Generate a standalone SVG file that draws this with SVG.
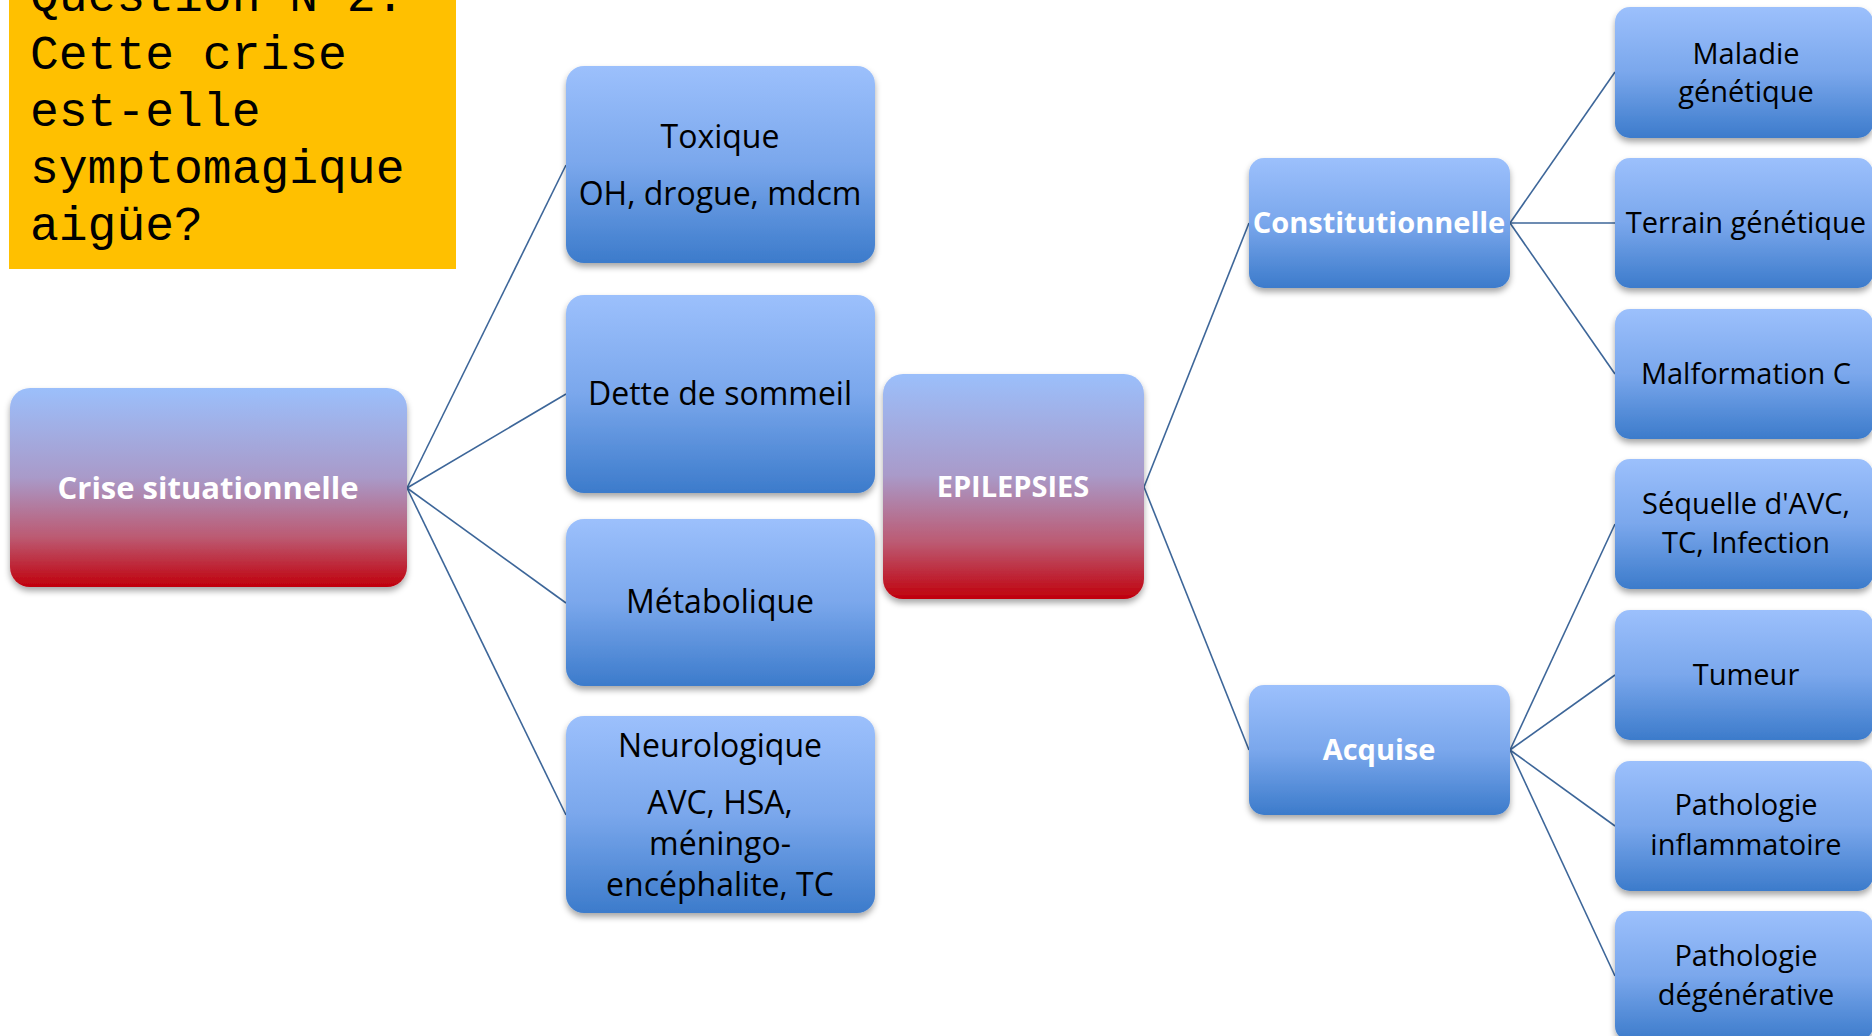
<svg xmlns="http://www.w3.org/2000/svg" width="1872" height="1036" viewBox="0 0 1872 1036">
<defs>
<linearGradient id="gBlue" x1="0" y1="0" x2="0" y2="1">
<stop offset="0" stop-color="#9CC0FC"/>
<stop offset="0.5" stop-color="#7AA7EC"/>
<stop offset="1" stop-color="#3C7BCB"/>
</linearGradient>
<linearGradient id="gRed" x1="0" y1="0" x2="0" y2="1">
<stop offset="0" stop-color="#9BBFFB"/>
<stop offset="0.45" stop-color="#A99AC9"/>
<stop offset="0.75" stop-color="#BC5A72"/>
<stop offset="1" stop-color="#C0000C"/>
</linearGradient>
<filter id="sh" x="-10%" y="-10%" width="120%" height="125%">
<feDropShadow dx="0" dy="4" stdDeviation="3" flood-color="#000" flood-opacity="0.35"/>
</filter>
</defs>
<style>
.b{fill:url(#gBlue);filter:url(#sh)}
.r{fill:url(#gRed);filter:url(#sh)}
.t{font-family:"Open Sans","Noto Sans",sans-serif;fill:#000;text-anchor:middle}
.m{font-size:32px}
.s{font-size:29px}
.w{font-family:"Open Sans","Noto Sans",sans-serif;font-weight:bold;fill:#fff;text-anchor:middle;font-size:29px}
.q{font-family:"Liberation Mono","Courier New",monospace;font-size:48px;fill:#000}
.c{stroke:#3D6699;stroke-width:1.6;fill:none}
</style>
<rect width="1872" height="1036" fill="#fff"/>
<g id="question">
<rect x="9" y="0" width="447" height="269" fill="#FFC000"/>
<text class="q" x="30" y="11">Question N°2:</text>
<text class="q" x="30" y="69">Cette crise</text>
<text class="q" x="30" y="126">est-elle</text>
<text class="q" x="30" y="183">symptomagique</text>
<text class="q" x="30" y="240">aigüe?</text>
</g>
<g id="connectors">
<line class="c" x1="407" y1="488" x2="566" y2="165"/>
<line class="c" x1="407" y1="488" x2="566" y2="394"/>
<line class="c" x1="407" y1="488" x2="566" y2="603"/>
<line class="c" x1="407" y1="488" x2="566" y2="815"/>
<line class="c" x1="1144" y1="487" x2="1249" y2="223"/>
<line class="c" x1="1144" y1="487" x2="1249" y2="750"/>
<line class="c" x1="1510" y1="223" x2="1615" y2="72"/>
<line class="c" x1="1510" y1="223" x2="1615" y2="223"/>
<line class="c" x1="1510" y1="223" x2="1615" y2="374"/>
<line class="c" x1="1510" y1="750" x2="1615" y2="524"/>
<line class="c" x1="1510" y1="750" x2="1615" y2="675"/>
<line class="c" x1="1510" y1="750" x2="1615" y2="826"/>
<line class="c" x1="1510" y1="750" x2="1615" y2="976"/>
</g>
<g id="crise">
<rect class="r" x="10" y="388" width="397" height="199" rx="20"/>
<text class="w" x="208" y="499" style="font-size:31px">Crise situationnelle</text>
</g>
<g id="toxique">
<rect class="b" x="566" y="66" width="309" height="197" rx="18"/>
<text class="t m" x="720" y="148">Toxique</text>
<text class="t m" x="720" y="205">OH, drogue, mdcm</text>
</g>
<g id="dette">
<rect class="b" x="566" y="295" width="309" height="198" rx="18"/>
<text class="t m" x="720" y="405">Dette de sommeil</text>
</g>
<g id="metabolique">
<rect class="b" x="566" y="519" width="309" height="167" rx="18"/>
<text class="t m" x="720" y="613">Métabolique</text>
</g>
<g id="neurologique">
<rect class="b" x="566" y="716" width="309" height="197" rx="18"/>
<text class="t m" x="720" y="757">Neurologique</text>
<text class="t m" x="720" y="814">AVC, HSA,</text>
<text class="t m" x="720" y="855">méningo-</text>
<text class="t m" x="720" y="896">encéphalite, TC</text>
</g>
<g id="epilepsies">
<rect class="r" x="883" y="374" width="261" height="225" rx="20"/>
<text class="w" x="1013" y="497">EPILEPSIES</text>
</g>
<g id="constitutionnelle">
<rect class="b" x="1249" y="158" width="261" height="130" rx="15"/>
<text class="w" x="1379" y="233">Constitutionnelle</text>
</g>
<g id="acquise">
<rect class="b" x="1249" y="685" width="261" height="130" rx="15"/>
<text class="w" x="1379" y="760">Acquise</text>
</g>
<g id="maladie">
<rect class="b" x="1615" y="7" width="258" height="131" rx="15"/>
<text class="t s" x="1746" y="64">Maladie</text>
<text class="t s" x="1746" y="102">génétique</text>
</g>
<g id="terrain">
<rect class="b" x="1615" y="158" width="258" height="130" rx="15"/>
<text class="t s" x="1746" y="233">Terrain génétique</text>
</g>
<g id="malformation">
<rect class="b" x="1615" y="309" width="258" height="130" rx="15"/>
<text class="t s" x="1746" y="384">Malformation C</text>
</g>
<g id="sequelle">
<rect class="b" x="1615" y="459" width="258" height="130" rx="15"/>
<text class="t s" x="1746" y="514">Séquelle d'AVC,</text>
<text class="t s" x="1746" y="553">TC, Infection</text>
</g>
<g id="tumeur">
<rect class="b" x="1615" y="610" width="258" height="130" rx="15"/>
<text class="t s" x="1746" y="685">Tumeur</text>
</g>
<g id="inflammatoire">
<rect class="b" x="1615" y="761" width="258" height="130" rx="15"/>
<text class="t s" x="1746" y="815">Pathologie</text>
<text class="t s" x="1746" y="855">inflammatoire</text>
</g>
<g id="degenerative">
<rect class="b" x="1615" y="911" width="258" height="130" rx="15"/>
<text class="t s" x="1746" y="966">Pathologie</text>
<text class="t s" x="1746" y="1005">dégénérative</text>
</g>
</svg>
